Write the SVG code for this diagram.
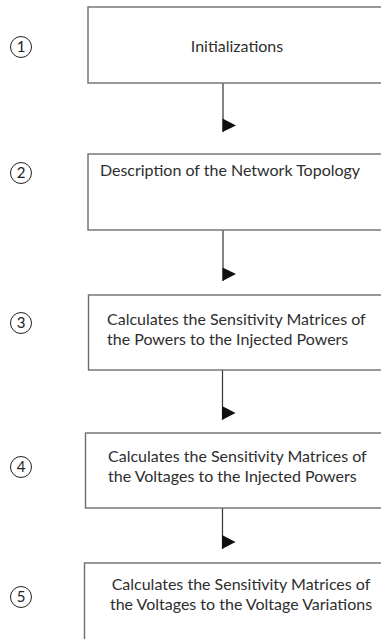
<svg xmlns="http://www.w3.org/2000/svg" width="381" height="639" viewBox="0 0 381 639">
<style>
.box{fill:#fff;stroke:#6e6e6e;stroke-width:1.4}
.t{font-family:Lato,"Liberation Sans",sans-serif;font-size:16px;fill:#2e2e2e}
.c{fill:none;stroke:#222;stroke-width:1}
.n{font-family:Lato,"Liberation Sans",sans-serif;font-size:15px;fill:#222;text-anchor:middle}
.ln{stroke:#333;stroke-width:1.2;fill:none}
.ah{fill:#111}
</style>
<rect width="381" height="639" fill="#fff"/>
<g id="connectors">
<path class="ln" d="M223 83V132"/><polygon class="ah" points="222.5,118.5 222.5,132 236,125.5"/>
<path class="ln" d="M223 230V281"/><polygon class="ah" points="222.5,267.5 222.5,281 236,274"/>
<path class="ln" d="M222.5 370V420"/><polygon class="ah" points="222,406 222,420 235.5,413"/>
<path class="ln" d="M222.5 501V549"/><polygon class="ah" points="222,535 222,549 235.5,542"/>
</g>
<g id="n1">
<circle class="c" cx="21" cy="47" r="10.5"/><text class="n" x="21" y="52">1</text>
<rect class="box" x="88" y="7" width="300" height="76"/>
<text class="t" x="237" y="52" text-anchor="middle">Initializations</text>
</g>
<g id="n2">
<circle class="c" cx="21" cy="173" r="10.5"/><text class="n" x="21" y="178">2</text>
<rect class="box" x="88" y="154" width="300" height="76"/>
<text class="t" x="230" y="176" text-anchor="middle">Description of the Network Topology</text>
</g>
<g id="n3">
<circle class="c" cx="21" cy="323" r="10.5"/><text class="n" x="21" y="328">3</text>
<rect class="box" x="88.5" y="295" width="300" height="75"/>
<text class="t" x="107" y="325">Calculates the Sensitivity Matrices of</text>
<text class="t" x="107" y="345">the Powers to the Injected Powers</text>
</g>
<g id="n4">
<circle class="c" cx="21" cy="467" r="10.5"/><text class="n" x="21" y="472">4</text>
<rect class="box" x="85.5" y="433" width="300" height="75"/>
<text class="t" x="108" y="462">Calculates the Sensitivity Matrices of</text>
<text class="t" x="108" y="482">the Voltages to the Injected Powers</text>
</g>
<g id="n5">
<circle class="c" cx="21" cy="597" r="10.5"/><text class="n" x="21" y="602">5</text>
<rect class="box" x="84.5" y="563" width="300" height="90"/>
<text class="t" x="241" y="590" text-anchor="middle">Calculates the Sensitivity Matrices of</text>
<text class="t" x="241" y="610" text-anchor="middle">the Voltages to the Voltage Variations</text>
</g>
</svg>
